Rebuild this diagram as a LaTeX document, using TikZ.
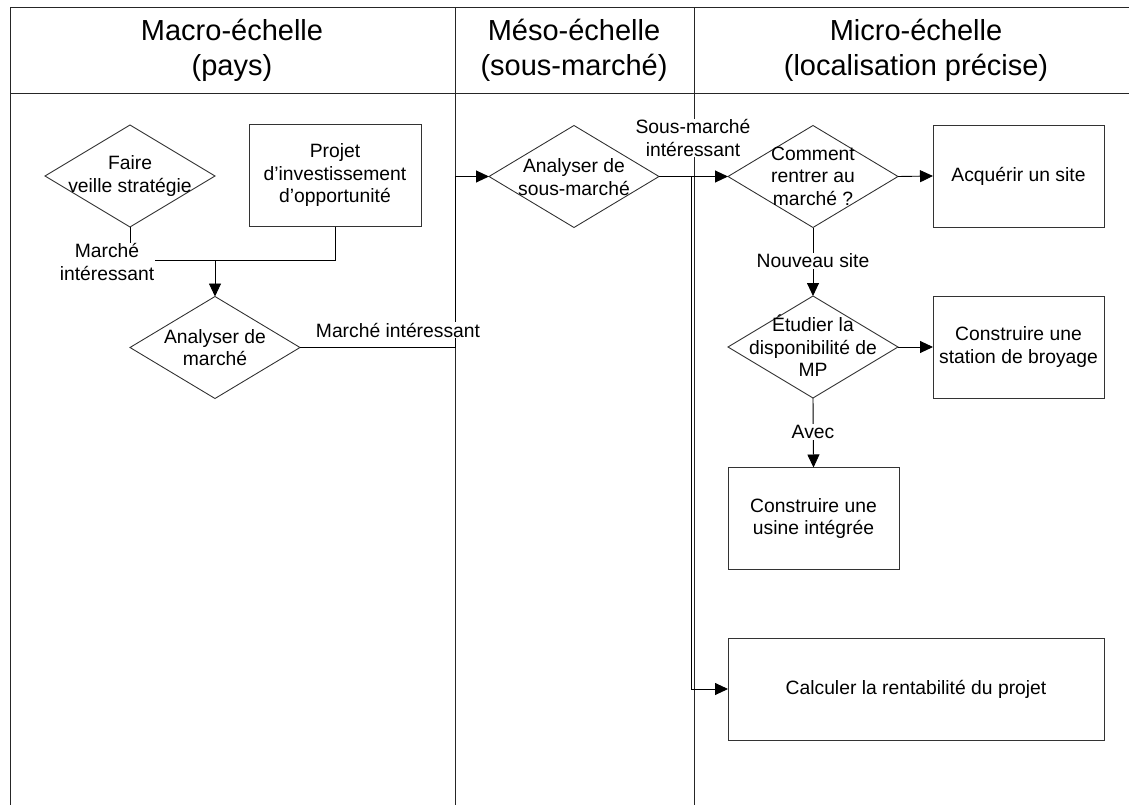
\documentclass[tikz,border=0pt]{standalone}
\usepackage{fontspec}
\setmainfont{Liberation Sans}
\usetikzlibrary{shapes.geometric,arrows.meta}
\newcommand\mybodyfont{\fontsize{19.3}{22.5}\selectfont}
\newcommand\myhdrfont{\fontsize{29}{35}\selectfont}
\begin{document}
\begin{tikzpicture}[x=1pt,y=-1pt,
  lane/.style={line width=1pt, draw=black!85},
  shp/.style={draw=black!80, line width=0.9pt, inner sep=0pt, outer sep=0pt},
  dia/.style={shp, diamond, minimum width=170pt, minimum height=102pt},
  box/.style={shp, rectangle, minimum width=171pt, minimum height=102pt, align=center, font=\mybodyfont},
  txt/.style={align=center, font=\mybodyfont, inner sep=0pt},
  lbl/.style={fill=white, align=center, font=\mybodyfont, inner sep=1pt},
  hdr/.style={align=center, font=\myhdrfont},
  conn/.style={line width=0.9pt, draw=black},
  arr/.style={conn, -{Triangle[length=13pt,width=12pt]}}
]
\useasboundingbox (0,0) rectangle (1129,805);
% lanes
\draw[lane] (10,805) -- (10,8) -- (1129,8);
\draw[lane] (10,94) -- (1129,94);
\draw[lane] (455,8) -- (455,805);
\draw[lane] (694,8) -- (694,805);
% headers
\node[hdr] (h1) at (232,50.5) {Macro-échelle\\(pays)};
\node[hdr] (h2) at (574,50.5) {Méso-échelle\\(sous-marché)};
\node[hdr] (h3) at (916,50.5) {Micro-échelle\\(localisation précise)};
% shapes
\node[dia] (fvs) at (130,176) {};
\node[txt] (fvst) at (130,176) {Faire\\veille stratégie};
\node[box, minimum width=172pt] (proj) at (335,175.5) {Projet\\d’investissement\\d’opportunité};
\node[dia] (am) at (215,347.5) {};
\node[txt] (amt) at (215,347.5) {Analyser de\\marché};
\node[dia] (asm) at (574,176.5) {};
\node[txt] (asmt) at (574,177) {Analyser de\\sous-marché};
\node[dia] (crm) at (813,176.5) {};
\node[txt] (crmt) at (813,176) {Comment\\rentrer au\\marché ?};
\node[box] (acq) at (1018.5,176) {Acquérir un site};
\node[dia] (edm) at (813,347) {};
\node[txt] (edmt) at (813,346) {Étudier la\\disponibilité de\\MP};
\node[box] (stb) at (1018.5,347) {Construire une\\station de broyage};
\node[box] (usi) at (813.5,518.5) {Construire une\\usine intégrée};
\node[box, minimum width=376pt] (cal) at (916,689) {Calculer la rentabilité du projet};
% connectors
\coordinate (j1) at (215,260);
\draw[conn] (fvs.south) |- (j1);
\draw[conn] (proj.south) |- (j1);
\draw[arr] (j1) -- (am.north);
\coordinate (j2) at (455,347.5);
\coordinate (j3) at (455,176.5);
\draw[arr] (am.east) -- (j2) -- (j3) -- (asm.west);
\coordinate (j4) at (691.5,176.5);
\draw[arr] (asm.east) -- (crm.west);
\draw[arr] (j4) |- (cal.west);
\draw[arr] (crm.east) -- (acq.west);
\draw[arr] (crm.south) -- (edm.north);
\draw[arr] (edm.east) -- (stb.west);
\draw[arr] (edm.south) -- (usi.north);
% labels
\node[lbl, inner sep=0.5pt] (l1) at (107,262) {Marché\\intéressant};
\node[lbl] (l2) at (398,330) {Marché intéressant};
\node[lbl] (l3) at (693,138) {Sous-marché\\intéressant};
\node[lbl] (l4) at (813,261) {Nouveau site};
\node[lbl] (l5) at (813,432) {Avec};
\end{tikzpicture}
\end{document}
